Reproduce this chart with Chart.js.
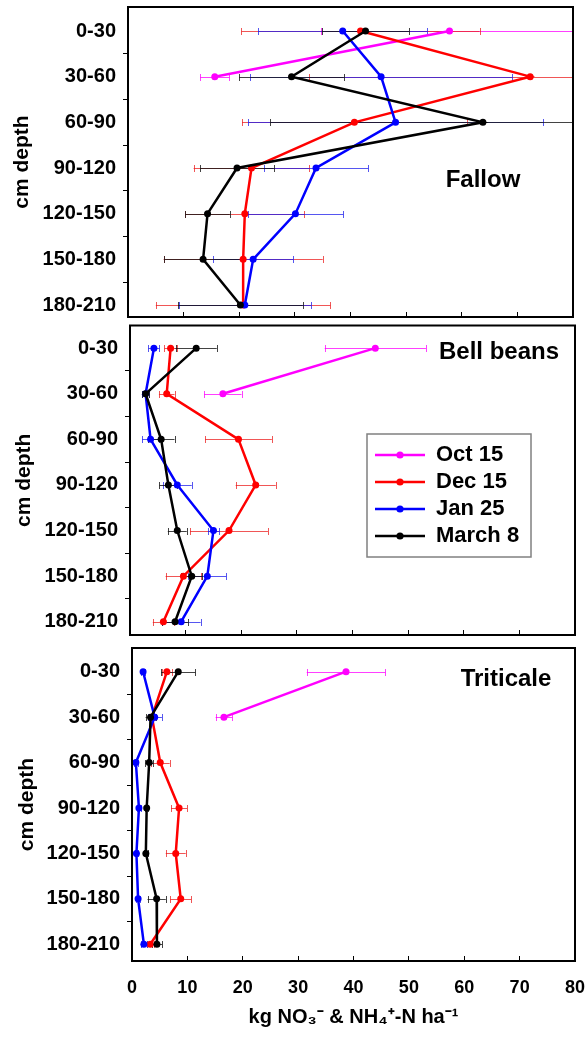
<!DOCTYPE html>
<html><head><meta charset="utf-8">
<script src="https://cdn.jsdelivr.net/npm/chart.js@4.4.1/dist/chart.umd.min.js"></script>
<style>
html,body{margin:0;padding:0;background:#fff;}
#wrap{position:relative;width:588px;height:1038px;overflow:hidden;}
canvas{position:absolute;left:0;}
</style></head><body>
<div id="wrap">
<canvas id="c1" width="588" height="322" style="top:0px"></canvas>
<canvas id="c2" width="588" height="319" style="top:322px"></canvas>
<canvas id="c3" width="588" height="397" style="top:641px"></canvas>
</div>
<script>
// ---------- data ----------
const depthLabels = ['0-30','30-60','60-90','90-120','120-150','150-180','180-210'];
const depthTickValues = [0,0.5,1,1.5,2,2.5,3,3.5,4,4.5,5,5.5,6];
const xTickValues = [0,10,20,30,40,50,60,70,80];
const seriesNames = ['Oct 15','Dec 15','Jan 25','March 8'];
const panelNames = ['Fallow','Bell beans','Triticale'];
const xAxisTitle = 'kg NO\u2083\u207B & NH\u2084\u207A-N ha\u207B\u00B9';
const yAxisTitle = 'cm depth';

// Fallow
const fallowOct = [57.8, 15.6];
const fallowOctErr = [23.1, 2.6];
const fallowDec = [41.8, 72.3, 40.7, 22.2, 21.0, 20.7, 20.7];
const fallowDecErr = [21.4, 39.7, 20.2, 10.4, 10.7, 14.3, 15.7];
const fallowJan = [38.6, 45.5, 48.1, 33.8, 30.1, 22.5, 21.0];
const fallowJanErr = [15.2, 23.5, 26.5, 9.4, 8.6, 7.2, 11.9];
const fallowMar = [42.7, 29.4, 63.8, 19.6, 14.3, 13.5, 20.2];
const fallowMarErr = [7.8, 9.4, 38.2, 6.6, 4.0, 7.0, 11.2];

// Bell beans
const beansOct = [44.1, 16.7];
const beansOctErr = [9.1, 3.35];
const beansDec = [7.3, 6.6, 19.5, 22.6, 17.8, 9.6, 6.0];
const beansDecErr = [1.1, 1.4, 6.0, 3.6, 7.0, 3.2, 1.9];
const beansJan = [4.3, 2.8, 3.7, 8.5, 15.0, 13.9, 9.2];
const beansJanErr = [1.0, 0.7, 1.5, 2.6, 1.0, 3.4, 3.5];
const beansMar = [11.9, 2.8, 5.6, 6.9, 8.5, 11.1, 8.1];
const beansMarErr = [3.7, 0.6, 2.4, 1.6, 1.7, 1.9, 2.3];

// Triticale
const triOct = [38.65, 16.6];
const triOctErr = [7.1, 1.5];
const triDec = [6.3, 3.6, 5.1, 8.5, 7.9, 8.8, 3.3];
const triDecErr = [0.9, 0.5, 1.7, 1.45, 1.8, 1.9, 0.6];
const triJan = [2.0, 4.1, 0.7, 1.25, 0.8, 1.1, 2.15];
const triJanErr = [0.3, 1.3, 0.3, 0.3, 0.3, 0.3, 0.6];
const triMar = [8.35, 3.35, 3.1, 2.65, 2.5, 4.45, 4.5];
const triMarErr = [3.1, 0.9, 0.7, 0.3, 0.3, 1.65, 0.95];

// ---------- styles ----------
const seriesColors = ['#ff00ff', '#ff0000', '#0000ff', '#000000'];
const errColors = ['rgba(255,0,255,0.75)', 'rgba(235,30,30,0.75)', 'rgba(30,30,235,0.75)', 'rgba(20,20,20,0.8)'];

Chart.defaults.font.family = "'Liberation Sans', Arial, sans-serif";
Chart.defaults.color = '#000';

// legend symbol images (line + dot)
const legendImgs = seriesColors.map(c => {
  const cv = document.createElement('canvas');
  cv.width = 50; cv.height = 10;
  const g = cv.getContext('2d');
  g.strokeStyle = c; g.lineWidth = 2.5;
  g.beginPath(); g.moveTo(0, 5); g.lineTo(50, 5); g.stroke();
  g.fillStyle = c; g.beginPath(); g.arc(25, 5, 3.6, 0, Math.PI * 2); g.fill();
  return cv;
});

const errorBars = {
  id: 'errorBars',
  beforeDatasetsDraw(chart) {
    const {ctx, chartArea: a} = chart;
    const xs = chart.scales.x, ys = chart.scales.y;
    ctx.save();
    ctx.beginPath(); ctx.rect(a.left, a.top, a.right - a.left, a.bottom - a.top); ctx.clip();
    chart.data.datasets.forEach((ds) => {
      ctx.strokeStyle = errColors[ds.seriesIndex];
      ctx.lineWidth = 1;
      ds.data.forEach((p, j) => {
        const e = ds.errors[j];
        if (!e) return;
        const x0 = xs.getPixelForValue(p.x - e), x1 = xs.getPixelForValue(p.x + e);
        const yy = Math.round(ys.getPixelForValue(p.y)) + 0.5;
        ctx.beginPath();
        ctx.moveTo(x0, yy); ctx.lineTo(x1, yy);
        ctx.moveTo(Math.round(x0) + 0.5, yy - 3.5); ctx.lineTo(Math.round(x0) + 0.5, yy + 3.5);
        ctx.moveTo(Math.round(x1) + 0.5, yy - 3.5); ctx.lineTo(Math.round(x1) + 0.5, yy + 3.5);
        ctx.stroke();
      });
    });
    ctx.restore();
  }
};

function framePlugin(label, lx, ly) {
  return {
    id: 'frame',
    afterDraw(chart) {
      const {ctx, chartArea: a} = chart;
      ctx.save();
      ctx.strokeStyle = '#000'; ctx.lineWidth = 2;
      ctx.strokeRect(a.left, a.top, a.right - a.left, a.bottom - a.top);
      ctx.fillStyle = '#000';
      ctx.font = "bold 24px 'Liberation Sans', Arial, sans-serif";
      ctx.textAlign = 'center'; ctx.textBaseline = 'middle';
      ctx.fillText(label, lx, ly);
      ctx.restore();
    }
  };
}

const legendPlace = {
  id: 'legendPlace',
  beforeLayout(chart) {
    const lg = chart.legend;
    if (lg && !lg._placed) {
      const f = lg.fit;
      lg.fit = function () { f.call(this); this.width = 0; this.height = 0; };
      lg._placed = true;
    }
  },
  afterLayout(chart) {
    const lg = chart.legend;
    if (!lg) return;
    lg.left = 370; lg.top = 117; lg.width = 160; lg.height = 120;
    lg.right = lg.left + lg.width; lg.bottom = lg.top + lg.height;
  },
  afterDraw(chart) {
    const ctx = chart.ctx;
    ctx.save();
    ctx.strokeStyle = '#808080'; ctx.lineWidth = 1.5;
    ctx.strokeRect(367, 112, 164, 123);
    ctx.restore();
  }
};

function zeroPad(s) { s.paddingTop = 0; s.paddingBottom = 0; s.paddingLeft = 0; s.paddingRight = 0; }

function makePanel(id, cfg) {
  const datasets = cfg.values.map((vals, i) => ({
    label: seriesNames[i],
    seriesIndex: i,
    data: vals.map((v, j) => ({x: v, y: j})),
    errors: cfg.errors[i],
    showLine: true,
    borderColor: seriesColors[i],
    backgroundColor: seriesColors[i],
    pointBackgroundColor: seriesColors[i],
    pointBorderColor: seriesColors[i],
    borderWidth: 2.5,
    pointRadius: 3.5,
    pointHoverRadius: 3.5,
    pointBorderWidth: 0,
    tension: 0,
    order: 3 - i
  }));
  const plugins = [errorBars, framePlugin(cfg.label, cfg.lx, cfg.ly)];
  if (cfg.legend) plugins.push(legendPlace);
  return new Chart(document.getElementById(id), {
    type: 'scatter',
    data: {datasets},
    plugins,
    options: {
      responsive: false,
      animation: false,
      events: [],
      layout: {padding: {left: 0, right: cfg.padR, top: cfg.padT, bottom: 0}},
      plugins: {
        tooltip: {enabled: false},
        legend: {
          display: !!cfg.legend,
          position: 'right',
          align: 'start',
          labels: {
            usePointStyle: true,
            pointStyleWidth: 50,
            padding: 5,
            color: '#000',
            font: {size: 22, weight: 'bold'},
            generateLabels: () => seriesNames.map((n, i) => ({
              text: n, pointStyle: legendImgs[i], datasetIndex: i,
              fontColor: '#000', fillStyle: seriesColors[i], strokeStyle: seriesColors[i],
              lineWidth: 0, hidden: false
            }))
          }
        }
      },
      scales: {
        x: {
          type: 'linear', min: 0, max: 80,
          afterBuildTicks: s => { s.ticks = xTickValues.map(v => ({value: v})); },
          afterFit: s => { s.height = cfg.xH; zeroPad(s); },
          grid: {drawOnChartArea: false, drawTicks: true, tickLength: -5, color: '#000', tickColor: '#000', tickWidth: 1},
          border: {display: true, color: '#000', width: 2},
          ticks: {
            display: !!cfg.showX, autoSkip: false, maxRotation: 0, padding: 21,
            color: '#000', font: {size: 18, weight: 'bold'}
          },
          title: {
            display: !!cfg.showX, text: xAxisTitle, color: '#000',
            font: {size: 20, weight: 'bold'}, padding: {top: 0, bottom: 9}
          }
        },
        y: {
          type: 'linear', reverse: true, min: cfg.yMin, max: cfg.yMax,
          afterBuildTicks: s => { s.ticks = depthTickValues.map(v => ({value: v})); },
          afterFit: s => { s.width = cfg.yW; zeroPad(s); },
          grid: {
            drawOnChartArea: false, drawTicks: true, tickLength: 5, tickWidth: 1,
            color: '#000',
            tickColor: c => (c.tick && Number.isInteger(c.tick.value)) ? 'rgba(0,0,0,0)' : '#000'
          },
          border: {display: true, color: '#000', width: 2},
          ticks: {
            autoSkip: false, padding: 7, color: '#000',
            font: {size: 20, weight: 'bold'},
            callback: v => Number.isInteger(v) ? depthLabels[v] : ''
          },
          title: {
            display: true, text: yAxisTitle, color: '#000',
            font: {size: 21, weight: 'bold'}, padding: {top: cfg.yTitlePad, bottom: 0}
          }
        }
      }
    }
  });
}

makePanel('c1', {
  values: [fallowOct, fallowDec, fallowJan, fallowMar],
  errors: [fallowOctErr, fallowDecErr, fallowJanErr, fallowMarErr],
  label: panelNames[0], lx: 483, ly: 180,
  padR: 15, padT: 7, xH: 5, yW: 128, yMin: -0.5255, yMax: 6.2628, yTitlePad: 9.4
});
makePanel('c2', {
  values: [beansOct, beansDec, beansJan, beansMar],
  errors: [beansOctErr, beansDecErr, beansJanErr, beansMarErr],
  label: panelNames[1], lx: 499, ly: 30, legend: true,
  padR: 13, padT: 3, xH: 6, yW: 130, yMin: -0.497, yMax: 6.291, yTitlePad: 12
});
makePanel('c3', {
  values: [triOct, triDec, triJan, triMar],
  errors: [triOctErr, triDecErr, triJanErr, triMarErr],
  label: panelNames[2], lx: 506, ly: 38, showX: true,
  padR: 13, padT: 7, xH: 77, yW: 132, yMin: -0.5217, yMax: 6.3676, yTitlePad: 14.4
});
</script>
</body></html>
